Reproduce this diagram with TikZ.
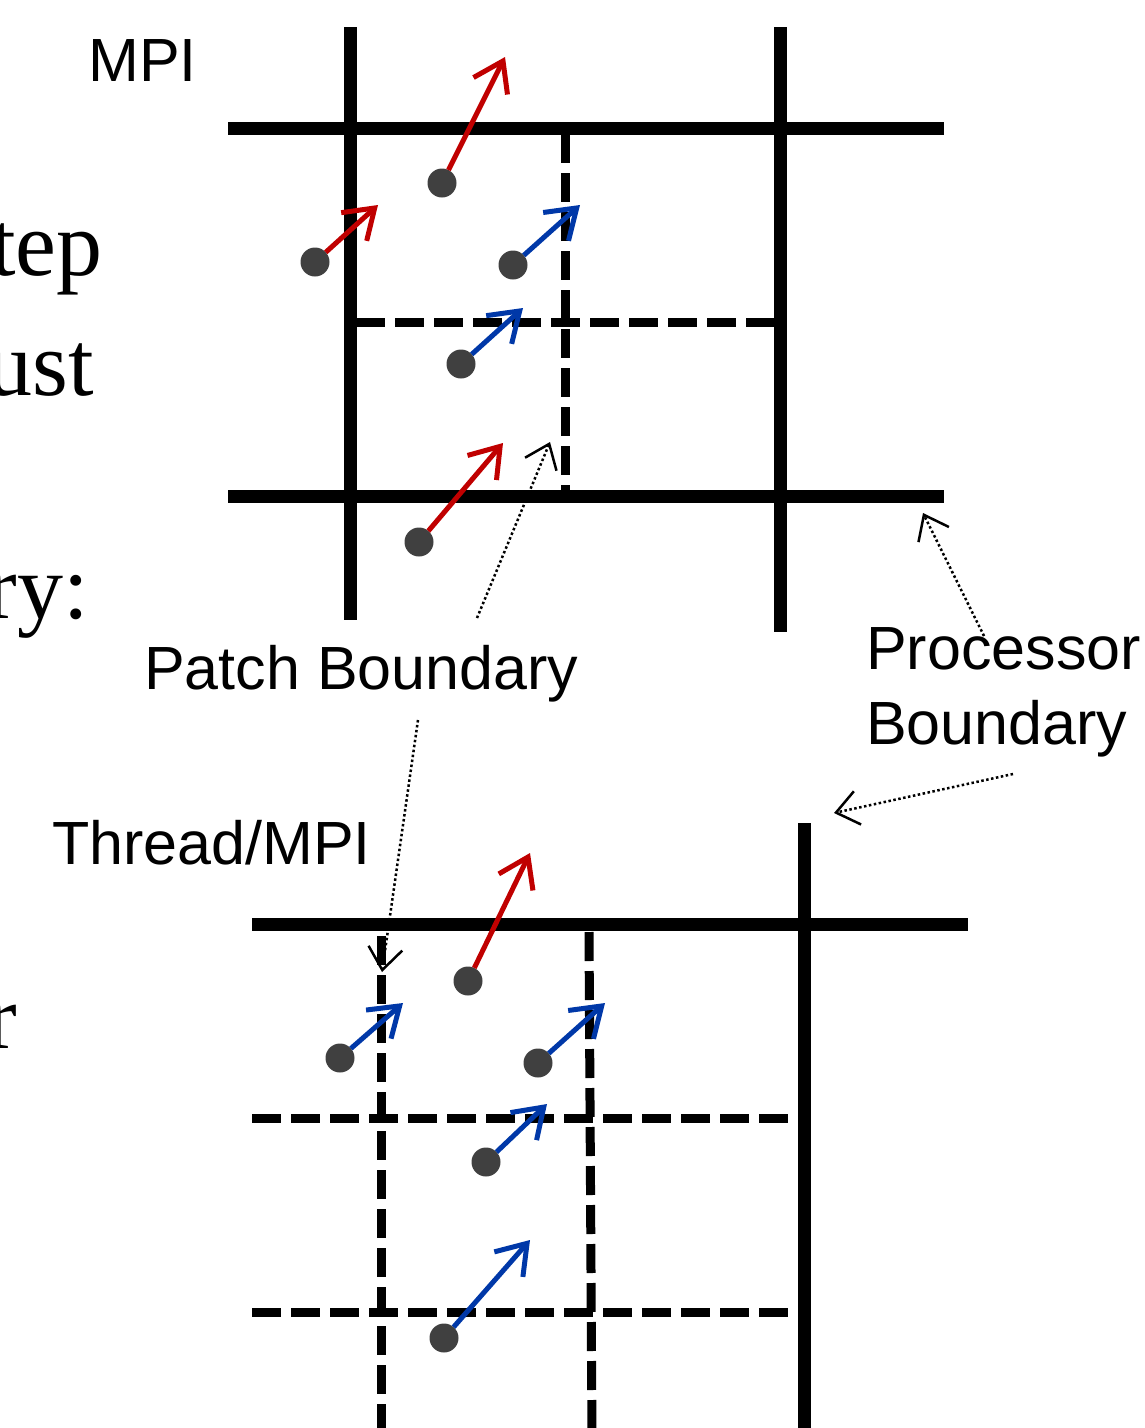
\documentclass[tikz,border=0pt]{standalone}
\usepackage{fontspec}
\setmainfont{Liberation Sans}
\newfontfamily\serifface{Liberation Serif}
\usetikzlibrary{arrows.meta}
\definecolor{pred}{RGB}{192,0,0}
\definecolor{pblue}{RGB}{0,56,168}
\definecolor{pgray}{RGB}{64,64,64}
\begin{document}
\begin{tikzpicture}[x=1pt,y=-1pt,
  solidline/.style={line width=13pt},
  dashline/.style={line width=9pt, dash pattern=on 29pt off 10pt},
  particle/.style={circle, fill=pgray, minimum size=29pt, inner sep=0pt, outer sep=0pt},
  redvec/.style={pred, line width=5pt, -{Straight Barb[length=28pt,width=38pt,line width=5pt]}},
  bluevec/.style={pblue, line width=5pt, -{Straight Barb[length=28pt,width=38pt,line width=5pt]}},
  pointer/.style={line width=2.5pt, dash pattern=on 2.5pt off 2.5pt, -{Straight Barb[length=22pt,width=34pt,line width=2.5pt]}},
  lbl/.style={font=\fontsize{61}{70}\selectfont, inner sep=0pt, anchor=base west},
  serifcut/.style={font=\serifface\fontsize{92}{100}\selectfont, inner sep=0pt, anchor=base east}
]
\useasboundingbox (0,0) rectangle (1145,1428);

% cut-off serif text at the left edge
\node[serifcut] (s1) at (103,275) {tep};
\node[serifcut] (s2) at (94,395) {ust};
\node[serifcut] (s3) at (89,618) {ry:};
\node[serifcut] (s4) at (17,1048) {r};

% labels
\node[lbl] (mpi) at (88,81) {MPI};
\node[lbl] (patch) at (144,689) {Patch Boundary};
\node[lbl] (proc1) at (866,669) {Processor};
\node[lbl] (proc2) at (866,744) {Boundary};
\node[lbl] (thread) at (52,864) {Thread/MPI};

% pointer coordinates
\coordinate (pp1s) at (477,618);
\coordinate (pp1t) at (550,442);
\coordinate (pp2s) at (418,720);
\coordinate (pp2t) at (382,972);
\coordinate (pr1s) at (984,636);
\coordinate (pr1t) at (923,513);
\coordinate (pr2s) at (1013,774);
\coordinate (pr2t) at (834,813);

\draw[pointer] (pp1s) -- (pp1t);
\draw[pointer] (pp2s) -- (pp2t);
\draw[pointer] (pr1s) -- (pr1t);
\draw[pointer] (pr2s) -- (pr2t);

% ---------- top grid ----------
\coordinate (tv1a) at (350,27);  \coordinate (tv1b) at (350,620);
\coordinate (tv2a) at (780,27);  \coordinate (tv2b) at (780,632);
\coordinate (th1a) at (228,128); \coordinate (th1b) at (944,128);
\coordinate (th2a) at (228,496); \coordinate (th2b) at (944,496);
\coordinate (tdva) at (565,134); \coordinate (tdvb) at (565,490);
\coordinate (tdha) at (356,322); \coordinate (tdhb) at (775,322);
\draw[dashline] (tdva) -- (tdvb);
\draw[dashline] (tdha) -- (tdhb);
\draw[solidline] (tv1a) -- (tv1b);
\draw[solidline] (tv2a) -- (tv2b);
\draw[solidline] (th1a) -- (th1b);
\draw[solidline] (th2a) -- (th2b);

\node[particle] (a1) at (442,183) {};
\node[particle] (a2) at (315,262) {};
\node[particle] (a3) at (513,265) {};
\node[particle] (a4) at (461,364) {};
\node[particle] (a5) at (419,542) {};
\coordinate (a1t) at (505,57);
\coordinate (a2t) at (378,205);
\coordinate (a3t) at (580,205);
\coordinate (a4t) at (523,308);
\coordinate (a5t) at (503,443);
\draw[redvec] (a1) -- (a1t);
\draw[redvec] (a2) -- (a2t);
\draw[bluevec] (a3) -- (a3t);
\draw[bluevec] (a4) -- (a4t);
\draw[redvec] (a5) -- (a5t);

% ---------- bottom grid ----------
\coordinate (bva) at (804,823);  \coordinate (bvb) at (804,1440);
\coordinate (bha) at (252,924);  \coordinate (bhb) at (968,924);
\coordinate (bd1a) at (381,936); \coordinate (bd1b) at (381,1440);
\coordinate (bd2a) at (589,932); \coordinate (bd2b) at (592,1440);
\coordinate (bh1a) at (252,1118); \coordinate (bh1b) at (795,1118);
\coordinate (bh2a) at (252,1312); \coordinate (bh2b) at (795,1312);
\draw[dashline] (bd1a) -- (bd1b);
\draw[dashline] (bd2a) -- (bd2b);
\draw[dashline] (bh1a) -- (bh1b);
\draw[dashline] (bh2a) -- (bh2b);
\draw[solidline] (bva) -- (bvb);
\draw[solidline] (bha) -- (bhb);

\node[particle] (b1) at (468,981) {};
\node[particle] (b2) at (340,1058) {};
\node[particle] (b3) at (538,1063) {};
\node[particle] (b4) at (486,1162) {};
\node[particle] (b5) at (444,1338) {};
\coordinate (b1t) at (530,853);
\coordinate (b2t) at (403,1003);
\coordinate (b3t) at (605,1003);
\coordinate (b4t) at (547,1104);
\coordinate (b5t) at (530,1240);
\draw[redvec] (b1) -- (b1t);
\draw[bluevec] (b2) -- (b2t);
\draw[bluevec] (b3) -- (b3t);
\draw[bluevec] (b4) -- (b4t);
\draw[bluevec] (b5) -- (b5t);
\end{tikzpicture}
\end{document}
